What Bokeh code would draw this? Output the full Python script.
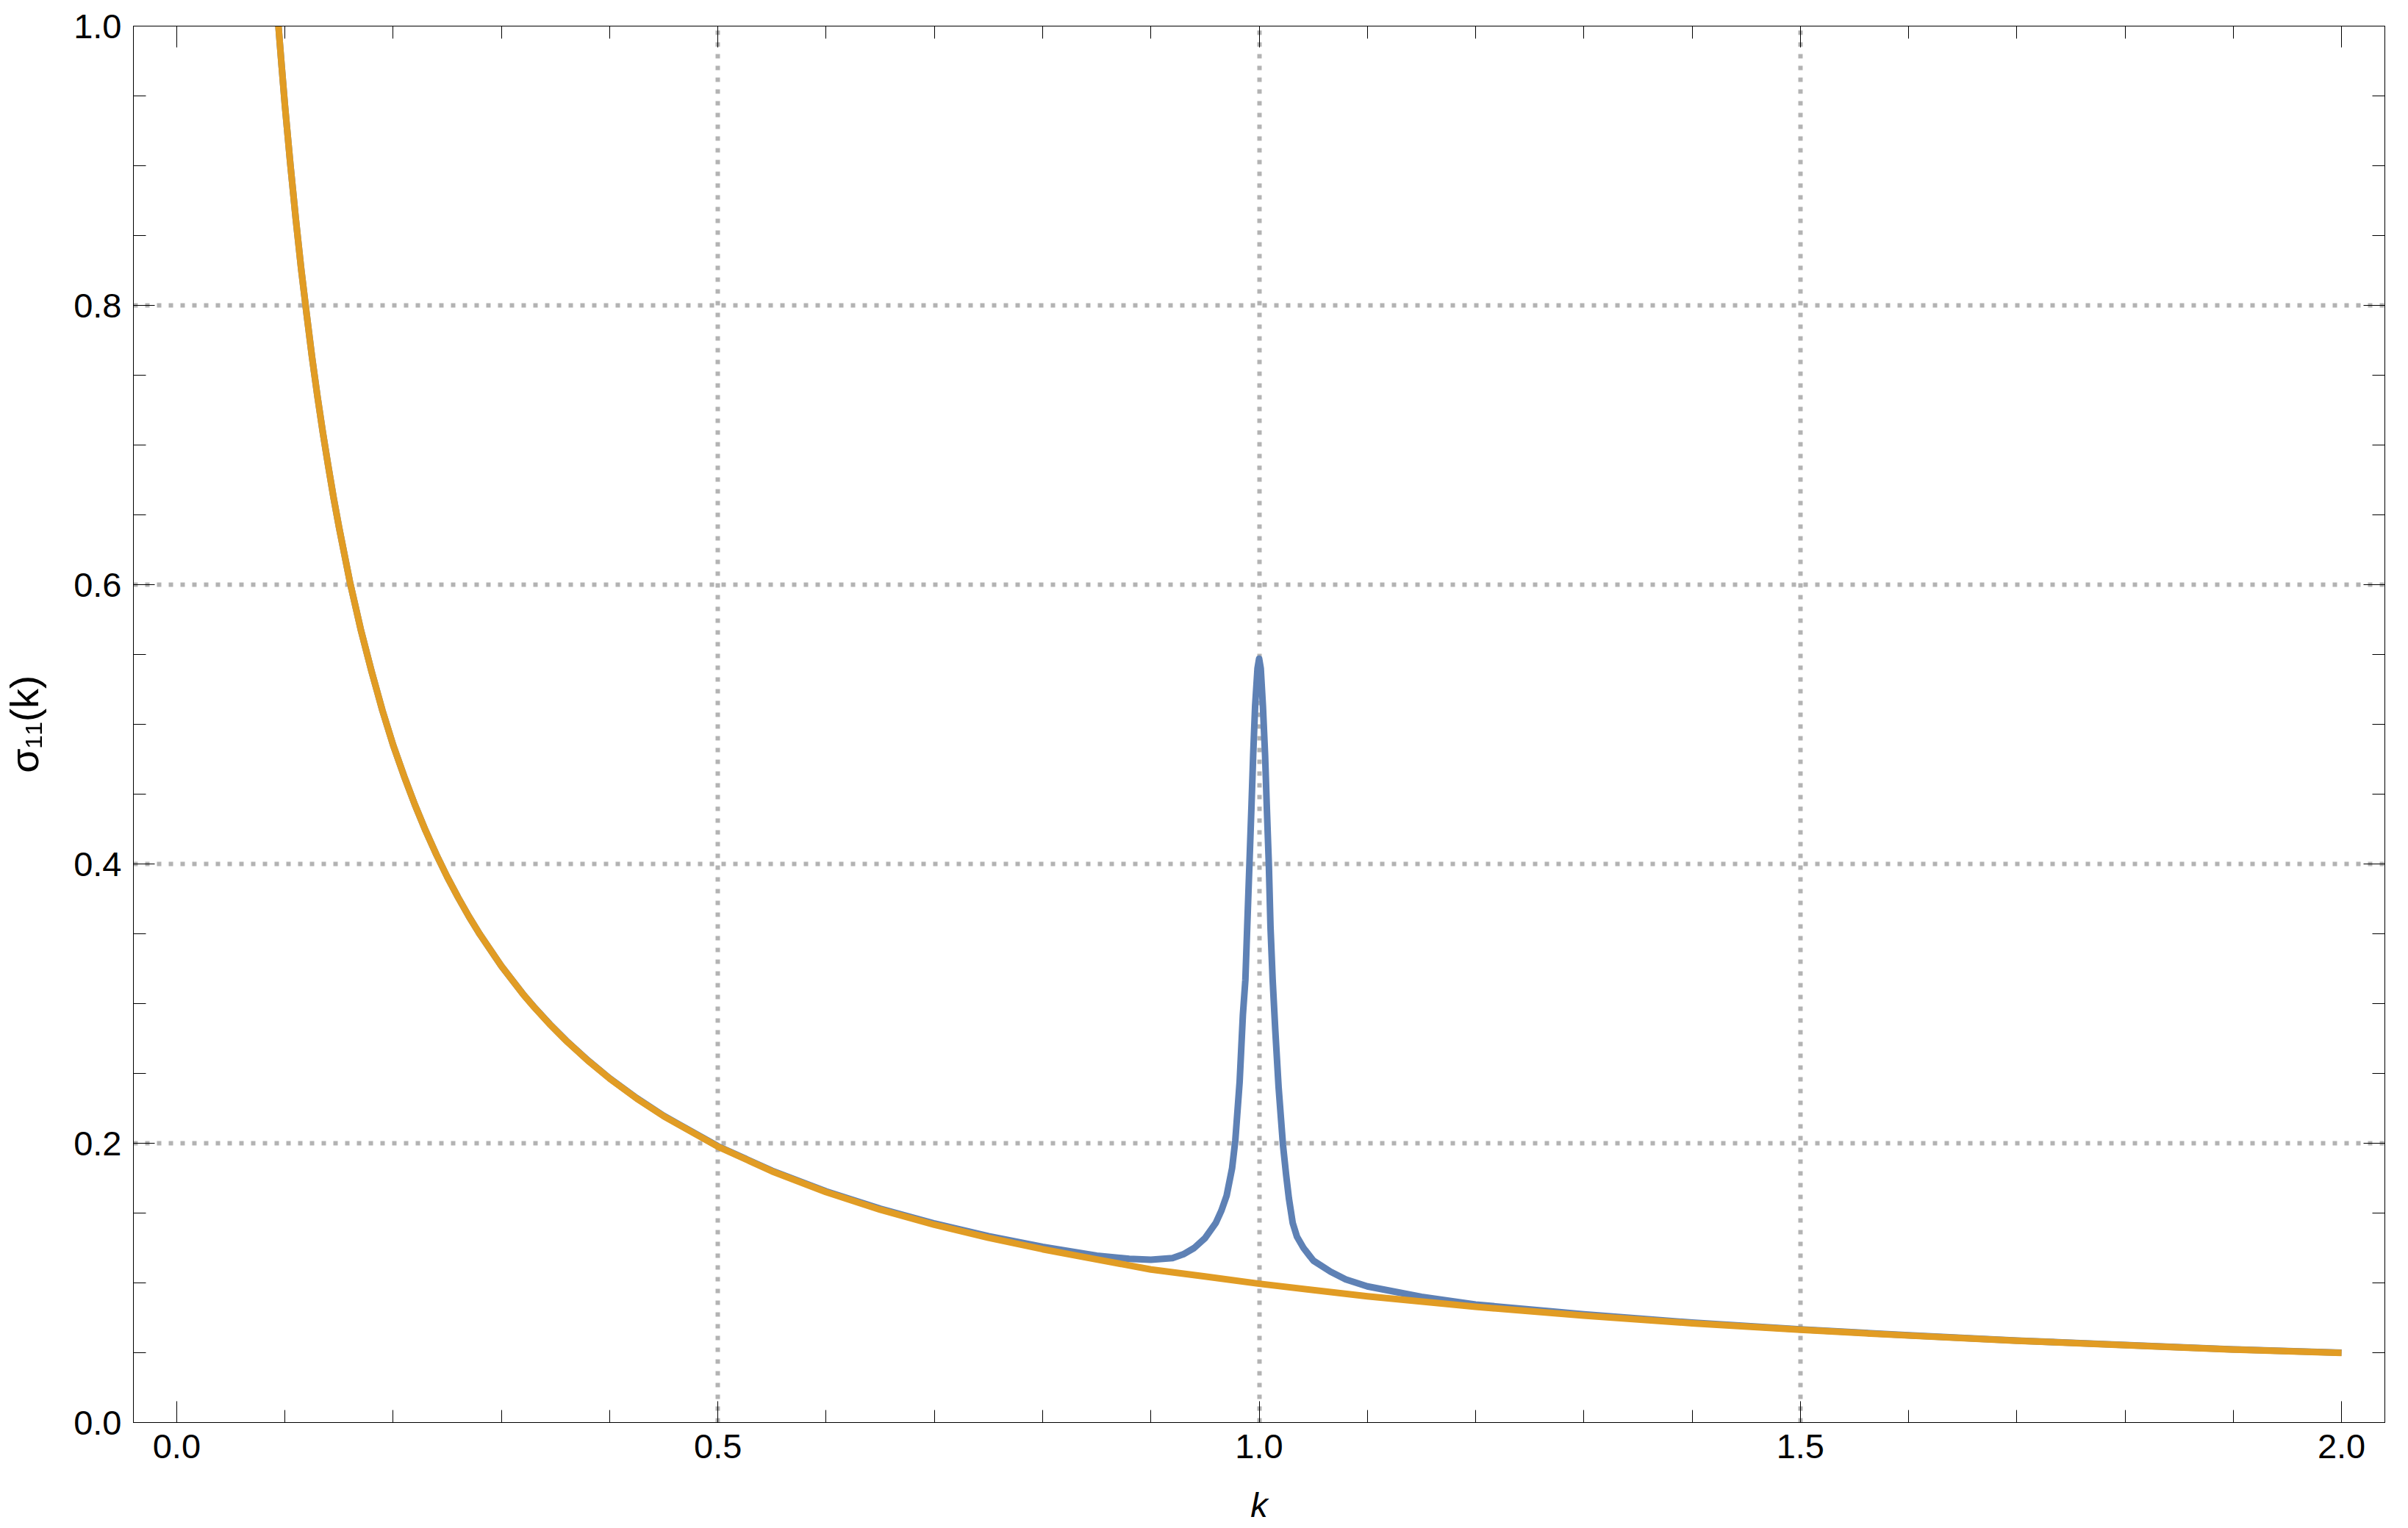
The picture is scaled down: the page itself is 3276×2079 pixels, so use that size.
from bokeh.plotting import figure
from bokeh.models import (Range1d, LinearAxis, FixedTicker, PrintfTickFormatter,
                          CustomJSTickFormatter)
from bokeh.embed import file_html
from bokeh.resources import INLINE

# ---- data ----
orange_k = [0.094, 0.097, 0.10, 0.105, 0.11, 0.115, 0.12, 0.125, 0.13, 0.135, 0.14, 0.145,
            0.15, 0.16, 0.165, 0.17, 0.18, 0.185, 0.19, 0.20, 0.21, 0.22, 0.23, 0.24, 0.25,
            0.26, 0.27, 0.28, 0.30, 0.32, 0.33, 0.345, 0.36, 0.38, 0.40, 0.425, 0.45, 0.50,
            0.55, 0.60, 0.65, 0.70, 0.75, 0.80, 0.85, 0.90, 0.95, 1.00, 1.10, 1.20, 1.30,
            1.40, 1.50, 1.60, 1.70, 1.80, 1.90, 2.00]
orange_v = [1.000, 0.971, 0.943, 0.901, 0.862, 0.826, 0.794, 0.763, 0.735, 0.709, 0.685, 0.662,
            0.641, 0.602, 0.585, 0.568, 0.538, 0.524, 0.510, 0.485, 0.463, 0.4425, 0.4237, 0.4065, 0.3906,
            0.376, 0.3623, 0.3497, 0.3268, 0.3067, 0.2976, 0.2849, 0.2732, 0.2591, 0.2463, 0.232, 0.2193, 0.1976,
            0.1799, 0.165, 0.1524, 0.1416, 0.1323, 0.1241, 0.1168, 0.1096, 0.1046, 0.0994, 0.0904, 0.0829, 0.0766,
            0.0711, 0.0664, 0.0623, 0.0586, 0.0554, 0.0523, 0.0499]

blue_k = [0.094, 0.097, 0.10, 0.105, 0.11, 0.115, 0.12, 0.125, 0.13, 0.135, 0.14, 0.145,
          0.15, 0.16, 0.165, 0.17, 0.18, 0.185, 0.19, 0.20, 0.21, 0.22, 0.23, 0.24, 0.25,
          0.26, 0.27, 0.28, 0.30, 0.32, 0.33, 0.345, 0.36, 0.38, 0.40, 0.425, 0.45, 0.50,
          0.55, 0.60, 0.65, 0.70, 0.75, 0.80, 0.85, 0.88, 0.90, 0.92, 0.93, 0.94, 0.95, 0.96,
          0.965, 0.970, 0.975, 0.978, 0.982, 0.985, 0.9873, 0.989, 0.991, 0.993,
          0.9945, 0.9963, 0.9985, 1.000, 1.0015, 1.0035, 1.0055, 1.007, 1.009,
          1.0105, 1.0125, 1.015, 1.018, 1.022, 1.025, 1.0275, 1.031, 1.035, 1.041,
          1.05, 1.066, 1.08, 1.10, 1.15, 1.20, 1.30, 1.40, 1.50, 1.60, 1.70, 1.80,
          1.90, 2.00]
blue_v = [1.000, 0.971, 0.943, 0.901, 0.862, 0.826, 0.794, 0.763, 0.735, 0.709, 0.685, 0.662,
          0.641, 0.602, 0.585, 0.568, 0.538, 0.524, 0.510, 0.485, 0.463, 0.4425, 0.4237, 0.4065, 0.3906,
          0.376, 0.3623, 0.3497, 0.3268, 0.3068, 0.2978, 0.2851, 0.2734, 0.2593, 0.2465, 0.2323, 0.2196, 0.1979,
          0.1803, 0.1655, 0.1531, 0.1425, 0.1335, 0.1258, 0.1195, 0.1172, 0.1166, 0.1178, 0.1205, 0.1250, 0.1320, 0.1430,
          0.1515, 0.1625, 0.1820, 0.2020, 0.2440, 0.2920, 0.3170, 0.3550, 0.3990, 0.4430,
          0.4780, 0.5130, 0.5400, 0.5470, 0.5400, 0.5130, 0.4780, 0.4430, 0.3990,
          0.3550, 0.3170, 0.2800, 0.2400, 0.1990, 0.1770, 0.1605, 0.1430, 0.1330, 0.1250,
          0.1160, 0.1080, 0.1025, 0.0975, 0.0900, 0.0845, 0.0775, 0.0716, 0.0667, 0.0625, 0.0587, 0.0555,
          0.0524, 0.0500]

x_major = [0.0, 0.5, 1.0, 1.5, 2.0]
x_minor = [0.1, 0.2, 0.3, 0.4, 0.6, 0.7, 0.8, 0.9, 1.1, 1.2, 1.3, 1.4, 1.6, 1.7, 1.8, 1.9]
y_major = [0.0, 0.2, 0.4, 0.6, 0.8, 1.0]
y_minor = [0.05, 0.1, 0.15, 0.25, 0.3, 0.35, 0.45, 0.5, 0.55, 0.65, 0.7, 0.75, 0.85, 0.9, 0.95]
x_grid = [0.5, 1.0, 1.5]
y_grid = [0.2, 0.4, 0.6, 0.8]

BLUE = "#5E81B5"
ORANGE = "#E19C24"
FONT = "Liberation Sans"
FS = "47px"

p = figure(frame_width=3063, frame_height=1900,
           x_range=Range1d(-0.04, 2.04), y_range=Range1d(0, 1),
           output_backend="svg", toolbar_location=None,
           min_border_left=181, min_border_top=35, min_border_right=16, min_border_bottom=125,
           background_fill_color="white", border_fill_color="white")
p.outline_line_color = "black"
p.outline_line_width = 1

# grid
p.xgrid.ticker = FixedTicker(ticks=x_grid)
p.ygrid.ticker = FixedTicker(ticks=y_grid)
for g in (p.xgrid, p.ygrid):
    g.grid_line_color = "#b3b3b3"
    g.grid_line_width = 6
    g.grid_line_dash = "6 10"

def style_axis(ax, ticks, minor, labels=True):
    ax.ticker = FixedTicker(ticks=ticks, minor_ticks=minor)
    ax.major_tick_in = 29
    ax.major_tick_out = 0
    ax.minor_tick_in = 17
    ax.minor_tick_out = 0
    ax.major_tick_line_color = "black"
    ax.minor_tick_line_color = "black"
    ax.major_tick_line_width = 1
    ax.minor_tick_line_width = 1
    ax.axis_line_color = "black"
    ax.axis_line_width = 1
    if labels:
        ax.formatter = PrintfTickFormatter(format="%.1f")
        ax.major_label_text_font = FONT
        ax.major_label_text_font_size = FS
        ax.major_label_text_color = "black"
        ax.major_label_standoff = 16
    else:
        ax.formatter = CustomJSTickFormatter(code="return '';")
        ax.major_label_text_font_size = "1px"
        ax.major_label_standoff = 0

xa = p.xaxis[0]
ya = p.yaxis[0]
style_axis(xa, x_major, x_minor)
style_axis(ya, y_major, y_minor)

xa.axis_label = "k"
xa.axis_label_text_font = FONT
xa.axis_label_text_font_style = "italic"
xa.axis_label_text_font_size = FS
xa.axis_label_text_color = "black"
xa.axis_label_standoff = 34

ya.axis_label = "σ₁₁(k)"
ya.axis_label_text_font = FONT
ya.axis_label_text_font_style = "normal"
ya.axis_label_text_font_size = "54px"
ya.axis_label_text_color = "black"
ya.axis_label_standoff = 34

top = LinearAxis()
style_axis(top, x_major, x_minor, labels=False)
p.add_layout(top, "above")
right = LinearAxis()
style_axis(right, y_major, y_minor, labels=False)
p.add_layout(right, "right")

p.line(blue_k, blue_v, line_color=BLUE, line_width=9, line_join="round")
p.line(orange_k, orange_v, line_color=ORANGE, line_width=9, line_join="round")

open("out.html", "w").write(file_html(p, INLINE))
